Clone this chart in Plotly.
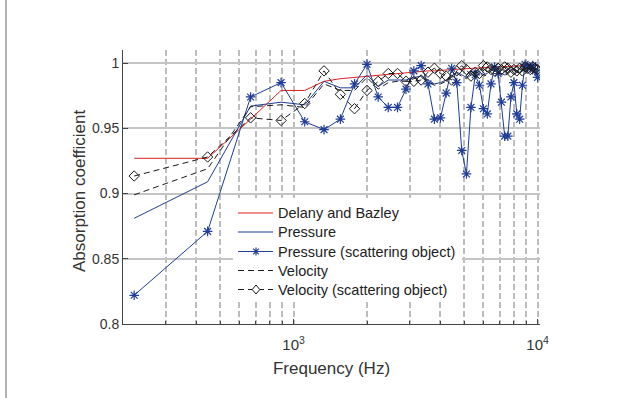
import numpy as np
import plotly.graph_objects as go

# Frequencies (Hz): linearly spaced steps
freq = [10000 / 45 * k for k in range(1, 46)]

delany = [0.927, 0.927, 0.957, 0.979, 0.979, 0.986, 0.988, 0.989, 0.990, 0.991,
          0.9915, 0.992, 0.9925, 0.993, 0.9935, 0.994, 0.994, 0.9945, 0.995, 0.995,
          0.9952, 0.9955, 0.9957, 0.996, 0.996, 0.9962, 0.9965, 0.9966, 0.9967, 0.997,
          0.997, 0.9972, 0.9973, 0.9975, 0.9975, 0.9977, 0.9978, 0.998, 0.998, 0.998,
          0.9982, 0.9983, 0.9984, 0.9985, 0.9985]

pressure = [0.881, 0.909, 0.967, 0.970, 0.968, 0.986, 0.981, 0.981, 0.991, 0.982,
            0.987, 0.987, 0.987, 0.989, 0.990, 0.987, 0.984, 0.985, 0.987, 0.990,
            0.993, 0.991, 0.989, 0.992, 0.995, 0.993, 0.991, 0.992, 0.995, 0.996,
            0.994, 0.992, 0.991, 0.993, 0.995, 0.996, 0.994, 0.993, 0.995, 0.997,
            0.997, 0.996, 0.997, 0.996, 0.995]

pressure_sc = [0.822, 0.871, 0.974, 0.985, 0.955, 0.949, 0.957, 0.984, 0.999, 0.974,
               0.966, 0.966, 0.980, 0.994, 0.998, 0.984, 0.957, 0.958, 0.977, 0.996,
               0.985, 0.933, 0.915, 0.966, 0.991, 0.983, 0.965, 0.961, 0.984, 0.997,
               0.992, 0.970, 0.944, 0.944, 0.974, 0.985, 0.961, 0.957, 0.983, 0.999,
               0.997, 0.996, 0.998, 0.994, 0.989]

velocity = [0.899, 0.919, 0.9665, 0.968, 0.966, 0.984, 0.979, 0.979, 0.989, 0.980,
            0.985, 0.986, 0.986, 0.988, 0.989, 0.986, 0.983, 0.984, 0.986, 0.989,
            0.992, 0.990, 0.988, 0.991, 0.994, 0.992, 0.990, 0.991, 0.994, 0.995,
            0.993, 0.991, 0.990, 0.992, 0.994, 0.995, 0.993, 0.992, 0.994, 0.996,
            0.996, 0.995, 0.996, 0.995, 0.994]

velocity_sc = [0.9134, 0.928, 0.958, 0.956, 0.969, 0.994, 0.976, 0.965, 0.979, 0.986,
               0.992, 0.992, 0.986, 0.986, 0.987, 0.993, 0.996, 0.992, 0.990, 0.987,
               0.994, 0.998, 0.995, 0.990, 0.993, 0.992, 0.998, 0.997, 0.995, 0.994,
               0.996, 0.995, 0.997, 0.996, 0.993, 0.995, 0.994, 0.996, 0.994, 0.997,
               0.996, 0.995, 0.997, 0.996, 0.995]

series_names = ["Delany and Bazley", "Pressure", "Pressure (scattering object)",
                "Velocity", "Velocity (scattering object)"]

y_ticks = [0.8, 0.85, 0.9, 0.95, 1.0]
y_ticktext = ["0.8", "0.85", "0.9", "0.95", "1"]
x_ticks = [1000, 10000]
x_ticktext = ["10<sup>3</sup>", "10<sup>4</sup>"]
x_minor = [200, 300, 400, 500, 600, 700, 800, 900, 2000, 3000, 4000, 5000, 6000, 7000, 8000, 9000]

RED = "#e02020"
BLUE = "#1f3d99"
BLACK = "#1a1a1a"
DASH = "6px,4px"

styles = [
    dict(color=RED, dash="solid", marker=None),
    dict(color=BLUE, dash="solid", marker=None),
    dict(color=BLUE, dash="solid", marker="asterisk"),
    dict(color=BLACK, dash=DASH, marker=None),
    dict(color=BLACK, dash=DASH, marker="diamond"),
]
values = [delany, pressure, pressure_sc, velocity, velocity_sc]

fig = go.Figure()
for name, vals, st in zip(series_names, values, styles):
    kw = dict(x=freq, y=vals, name=name, showlegend=False,
              line=dict(color=st["color"], width=1, dash=st["dash"]))
    if st["marker"] == "asterisk":
        kw["mode"] = "lines+markers"
        kw["marker"] = dict(symbol="asterisk-open", size=8, line=dict(color=BLUE, width=1.2))
    elif st["marker"] == "diamond":
        kw["mode"] = "lines+markers"
        kw["marker"] = dict(symbol="diamond-open", size=8, color=BLACK,
                            line=dict(color=BLACK, width=1))
    else:
        kw["mode"] = "lines"
    fig.add_trace(go.Scatter(**kw))

W, H = 619, 398
L, R, T, B = 123, 79, 50, 74
pw = W - L - R
ph = H - T - B


def px(x):
    return (x - L) / pw


def py(y):
    return (H - B - y) / ph


fig.update_layout(
    width=W, height=H,
    margin=dict(l=L, r=R, t=T, b=B),
    paper_bgcolor="white", plot_bgcolor="white",
    font=dict(family="Liberation Sans, Arial, sans-serif", size=14, color="#333333"),
    showlegend=False,
)
fig.update_xaxes(
    type="log", range=[np.log10(200), 4.010],
    tickvals=x_ticks, ticktext=x_ticktext, ticks="inside", ticklen=5,
    tickcolor="#444444", showline=True, linecolor="#444444", linewidth=1,
    showgrid=True, gridcolor="#bdbdbd", gridwidth=1.5, griddash="6px,3px",
    zeroline=False, mirror=False, ticklabelstandoff=7, tickfont=dict(size=15),
    minor=dict(tickvals=x_minor, ticks="inside", ticklen=3, tickcolor="#444444",
               showgrid=True, gridcolor="#bdbdbd", gridwidth=1.5, griddash="6px,3px"),
    title=dict(text="Frequency (Hz)", font=dict(size=17), standoff=10),
)
fig.update_yaxes(
    range=[0.8, 1.01], tickvals=y_ticks, ticktext=y_ticktext,
    ticks="inside", ticklen=5, tickcolor="#444444", tickfont=dict(size=14),
    showline=True, linecolor="#444444", linewidth=1,
    showgrid=True, gridcolor="#c4c4c4", gridwidth=2, zeroline=False,
)

# y-axis title
fig.add_annotation(xref="paper", yref="paper", x=px(79), y=py(191),
                   xanchor="center", yanchor="middle", showarrow=False,
                   textangle=-90, text="Absorption coefficient",
                   font=dict(size=17, color="#333333"))

# left frame line of the figure
fig.add_shape(type="line", xref="paper", yref="paper",
              x0=px(6), x1=px(6), y0=py(H), y1=py(0),
              line=dict(color="#666666", width=1))

# legend box (drawn manually)
lx0, lx1, ly0, ly1 = 233, 462, 198, 300
fig.add_shape(type="rect", xref="paper", yref="paper", layer="above",
              x0=px(lx0), x1=px(lx1), y0=py(ly1), y1=py(ly0),
              fillcolor="white", line=dict(width=0))
row_y = [213, 232, 251.5, 270.5, 289.5]
sx0, sx1, mx, tx = 238, 273, 256, 275.5
for name, st, ry in zip(series_names, styles, row_y):
    fig.add_shape(type="path", xref="paper", yref="paper", layer="above",
                  path=f"M{px(sx0)},{py(ry)} L{px(sx1)},{py(ry)}",
                  line=dict(color=st["color"], width=1.2, dash=st["dash"]))
    if st["marker"] == "asterisk":
        r = 4
        d = r * 0.707
        path = (f"M{px(mx - r)},{py(ry)} L{px(mx + r)},{py(ry)} "
                f"M{px(mx)},{py(ry - r)} L{px(mx)},{py(ry + r)} "
                f"M{px(mx - d)},{py(ry - d)} L{px(mx + d)},{py(ry + d)} "
                f"M{px(mx - d)},{py(ry + d)} L{px(mx + d)},{py(ry - d)}")
        fig.add_shape(type="path", xref="paper", yref="paper", layer="above",
                      path=path, line=dict(color=BLUE, width=1.2))
    elif st["marker"] == "diamond":
        path = (f"M{px(mx)},{py(ry - 4.5)} L{px(mx + 3.8)},{py(ry)} "
                f"L{px(mx)},{py(ry + 4.5)} L{px(mx - 3.8)},{py(ry)} Z")
        fig.add_shape(type="path", xref="paper", yref="paper", layer="above",
                      path=path, fillcolor="white", line=dict(color=BLACK, width=1))
    fig.add_annotation(xref="paper", yref="paper", x=px(tx), y=py(ry),
                       xanchor="left", yanchor="middle", showarrow=False,
                       text=name, font=dict(size=14.5, color="#222222"))

fig.write_html("out.html")
